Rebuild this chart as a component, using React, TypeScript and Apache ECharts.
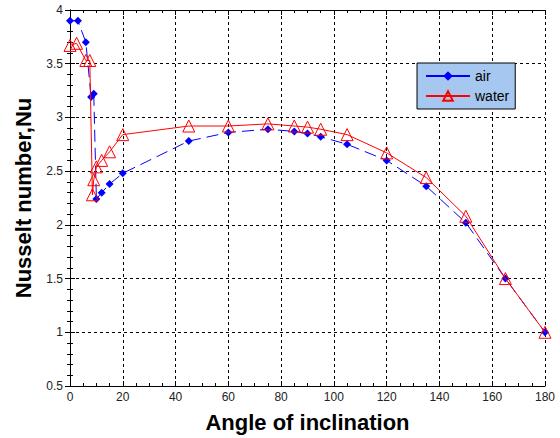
import React, { useEffect, useRef } from "react";
import * as echarts from "echarts";

const airAngles = [0, 3, 6, 8, 9, 10, 12, 15, 20, 45, 60, 75, 85, 90, 95, 105, 120, 135, 150, 165, 180];
const airNu = [3.9, 3.9, 3.7, 3.19, 3.22, 2.24, 2.3, 2.38, 2.48, 2.78, 2.86, 2.89, 2.87, 2.85, 2.82, 2.75, 2.6, 2.36, 2.02, 1.5, 1.0];
const waterAngles = [0, 2.5, 6, 7.5, 8.5, 9, 10, 12, 15, 20, 45, 60, 75, 85, 90, 95, 105, 120, 135, 150, 165, 180];
const waterNu = [3.67, 3.69, 3.53, 3.53, 2.28, 2.42, 2.54, 2.6, 2.68, 2.84, 2.92, 2.92, 2.94, 2.92, 2.91, 2.89, 2.84, 2.67, 2.44, 2.08, 1.5, 1.0];

const FONT = "'Liberation Sans', Arial, sans-serif";

export default function App() {
  const ref = useRef<HTMLDivElement>(null);
  useEffect(() => {
    const chart = echarts.init(ref.current!, null, { renderer: "svg" });
    const tickStyle = { lineStyle: { color: "#000", width: 1 } };
    chart.setOption({
      animation: false,
      backgroundColor: "#fff",
      textStyle: { fontFamily: FONT },
      grid: { left: 70, right: 15, top: 10, bottom: 52 },
      legend: {
        left: 417,
        top: 63,
        orient: "vertical",
        backgroundColor: "#a6c8f0",
        borderColor: "#000",
        borderWidth: 1,
        padding: [6, 6, 6, 8],
        itemGap: 6,
        itemWidth: 44,
        itemHeight: 12,
        textStyle: { fontFamily: FONT, fontSize: 14, color: "#000" },
        data: [
          { name: "air", lineStyle: { type: "solid" } },
          { name: "water", lineStyle: { type: "solid" } },
        ],
      },
      xAxis: [
        {
          type: "value",
          min: 0,
          max: 180,
          interval: 20,
          name: "Angle of inclination",
          nameLocation: "middle",
          nameGap: 25,
          nameTextStyle: { fontFamily: FONT, fontSize: 22, fontWeight: "bold", color: "#000" },
          axisLine: { lineStyle: { color: "#000", width: 1 } },
          axisTick: { inside: true, length: 5, ...tickStyle },
          minorTick: { show: true, splitNumber: 4, length: 3, lineStyle: { color: "#000" } },
          axisLabel: { color: "#222", fontSize: 12, fontFamily: FONT, margin: 5 },
          splitLine: { show: true, lineStyle: { color: "#000", type: [3, 3], width: 1 } },
        },
        {
          type: "value",
          position: "top",
          min: 0,
          max: 180,
          interval: 20,
          axisLine: { show: true, lineStyle: { color: "#000", width: 1 } },
          axisTick: { inside: true, length: 5, ...tickStyle },
          minorTick: { show: true, splitNumber: 4, length: 3, lineStyle: { color: "#000" } },
          axisLabel: { show: false },
          splitLine: { show: false },
        },
      ],
      yAxis: [
        {
          type: "value",
          min: 0.5,
          max: 4,
          interval: 0.5,
          name: "Nusselt number,Nu",
          nameLocation: "middle",
          nameGap: 36,
          nameTextStyle: { fontFamily: FONT, fontSize: 22, fontWeight: "bold", color: "#000" },
          axisLine: { show: true, lineStyle: { color: "#000", width: 1 } },
          axisTick: { inside: true, length: 5, ...tickStyle },
          minorTick: { show: true, splitNumber: 5, length: 3, lineStyle: { color: "#000" } },
          axisLabel: { color: "#222", fontSize: 12, fontFamily: FONT, margin: 7 },
          splitLine: { show: true, lineStyle: { color: "#000", type: [3, 3], width: 1 } },
        },
        {
          type: "value",
          position: "right",
          min: 0.5,
          max: 4,
          interval: 0.5,
          axisLine: { show: true, lineStyle: { color: "#000", width: 1 } },
          axisTick: { inside: true, length: 5, ...tickStyle },
          minorTick: { show: true, splitNumber: 5, length: 3, lineStyle: { color: "#000" } },
          axisLabel: { show: false },
          splitLine: { show: false },
        },
      ],
      series: [
        {
          name: "air",
          type: "line",
          data: airAngles.map((a, i) => [a, airNu[i]]),
          symbol: "diamond",
          symbolSize: 8,
          itemStyle: { color: "#0000ff" },
          lineStyle: { color: "#0000ff", width: 1, type: [12, 6] },
          z: 3,
        },
        {
          name: "water",
          type: "line",
          data: waterAngles.map((a, i) => [a, waterNu[i]]),
          symbol: "triangle",
          symbolSize: 12,
          itemStyle: { color: "rgba(255,255,255,0)", borderColor: "#ff0000", borderWidth: 1 },
          lineStyle: { color: "#ff0000", width: 1 },
          z: 4,
        },
      ],
    });
    return () => chart.dispose();
  }, []);
  return (
    <div
      ref={ref}
      style={{ position: "absolute", left: 0, top: 0, width: 560, height: 438 }}
    />
  );
}
